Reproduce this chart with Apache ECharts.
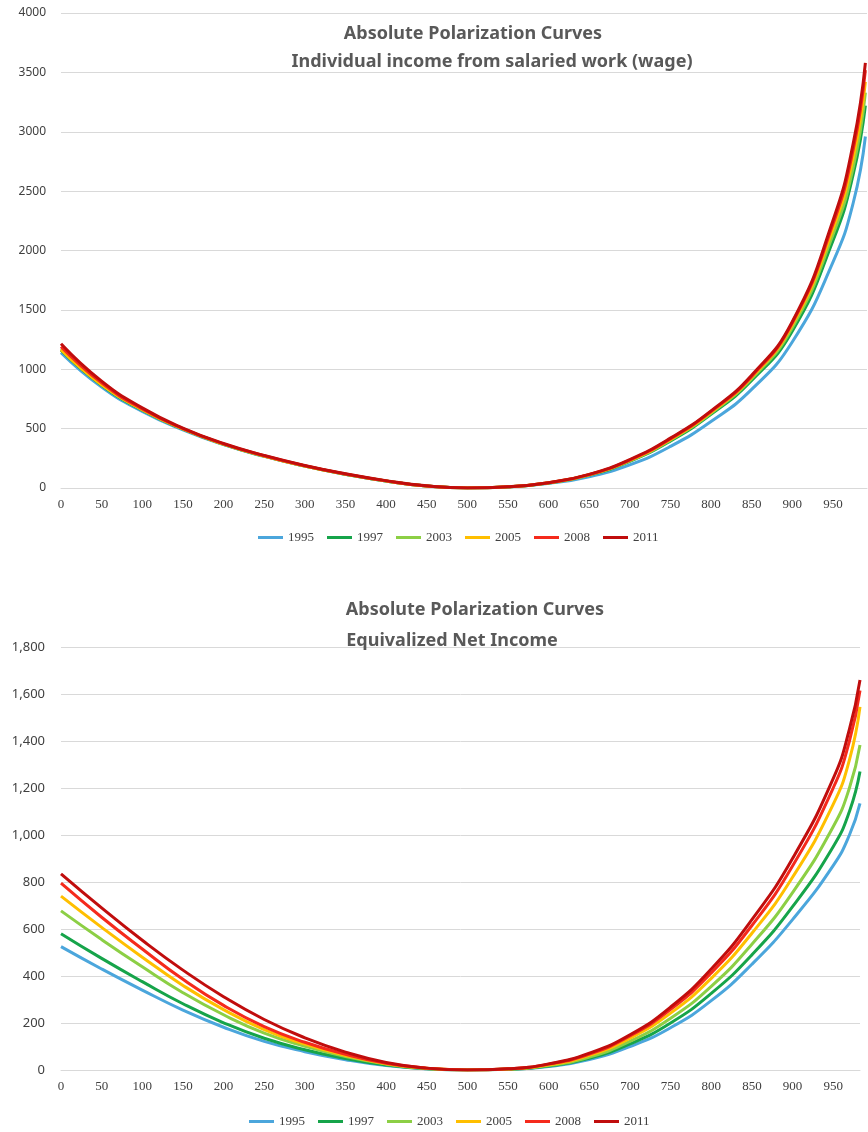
<!DOCTYPE html>
<html>
<head>
<meta charset="utf-8">
<script src="https://cdn.jsdelivr.net/npm/echarts@6/dist/echarts.min.js"></script>
<style>
  html, body { margin: 0; padding: 0; background: #fff; }
  #chart { width: 868px; height: 1132px; }
</style>
</head>
<body>
<div id="chart"></div>
<script>
// years shown in both panels
const years = ['1995', '1997', '2003', '2005', '2008', '2011'];
const colors = ['#4ba6dc', '#16a44a', '#8ccf45', '#ffbf00', '#f52a1c', '#c00d0d'];

// top panel: wage
const xTop = [0, 50, 100, 150, 200, 250, 300, 350, 400, 450, 500, 550, 600, 650, 700, 750, 800, 850, 900, 950, 975, 990];
const wage1995 = [1140, 850, 645, 490, 365, 266, 184, 115, 58, 16, 0, 8, 38, 95, 195, 350, 560, 830, 1230, 1900, 2400, 2960];
const wage1997 = [1160, 865, 655, 495, 368, 268, 185, 116, 59, 17, 0, 9, 42, 108, 224, 395, 620, 905, 1320, 2080, 2640, 3220];
const wage2003 = [1170, 872, 660, 497, 369, 268, 185, 116, 59, 17, 0, 10, 43, 110, 228, 402, 630, 920, 1350, 2130, 2700, 3330];
const wage2005 = [1165, 870, 660, 497, 370, 270, 186, 117, 60, 17, 0, 10, 44, 112, 232, 408, 638, 932, 1375, 2180, 2780, 3420];
const wage2008 = [1190, 885, 665, 500, 372, 272, 188, 118, 60, 17, 0, 10, 44, 113, 235, 414, 644, 940, 1390, 2220, 2850, 3520];
const wage2011 = [1215, 900, 675, 505, 375, 275, 190, 120, 62, 18, 0, 10, 45, 115, 240, 420, 650, 950, 1400, 2250, 2900, 3580];

// bottom panel: equivalized net income
const xBottom = [0, 50, 100, 150, 200, 250, 300, 350, 400, 450, 500, 550, 600, 650, 700, 750, 800, 850, 900, 950, 970, 983];
const net1995 = [525, 430, 340, 255, 182, 122, 78, 44, 19, 5, 0, 3, 15, 45, 100, 180, 295, 450, 640, 870, 1000, 1135];
const net1997 = [580, 475, 376, 282, 201, 135, 86, 49, 21, 5, 0, 3, 17, 50, 111, 200, 326, 490, 695, 950, 1100, 1270];
const net2003 = [677, 555, 439, 329, 235, 157, 101, 57, 25, 6, 0, 4, 19, 55, 122, 220, 356, 535, 755, 1035, 1200, 1383];
const net2005 = [740, 607, 480, 360, 257, 172, 110, 62, 27, 7, 0, 4, 22, 62, 135, 242, 390, 582, 820, 1130, 1320, 1545];
const net2008 = [795, 650, 515, 386, 275, 185, 118, 67, 29, 8, 0, 5, 25, 68, 145, 258, 413, 615, 868, 1200, 1400, 1615];
const net2011 = [835, 690, 552, 425, 312, 215, 137, 76, 32, 8, 0, 5, 26, 72, 150, 268, 430, 640, 900, 1240, 1450, 1660];

const wageSeries = [wage1995, wage1997, wage2003, wage2005, wage2008, wage2011];
const netSeries = [net1995, net1997, net2003, net2005, net2008, net2011];

const pair = (xs, ys) => xs.map((x, i) => [x, ys[i]]);

const titleStyle = { color: '#595959', fontSize: 18, fontWeight: 'bold', fontFamily: 'Noto Sans' };
const serifLabel = { color: '#404040', fontSize: 13, fontFamily: 'Liberation Serif' };
const gridLine = { show: true, lineStyle: { color: '#d9d9d9', width: 1 } };

const xAxisCommon = {
  type: 'value',
  min: 0,
  interval: 50,
  axisLine: { show: true, lineStyle: { color: '#d9d9d9' } },
  axisTick: { show: false },
  splitLine: { show: false },
  axisLabel: { ...serifLabel, margin: 10, showMaxLabel: false },
};

const lineCommon = {
  type: 'line',
  showSymbol: false,
  smooth: 0.5,
  lineStyle: { width: 3 },
};

const legendCommon = {
  data: years,
  icon: 'rect',
  itemWidth: 25,
  itemHeight: 3,
  itemGap: 13,
  textStyle: serifLabel,
};

const chart = echarts.init(document.getElementById('chart'));
chart.setOption({
  color: colors,
  animation: false,
  title: [
    { text: 'Absolute Polarization Curves', left: 468, top: 20, textAlign: 'center', textStyle: titleStyle },
    { text: 'Individual income from salaried work (wage)', left: 487, top: 48, textAlign: 'center', textStyle: titleStyle },
    { text: 'Absolute Polarization Curves', left: 470, top: 596, textAlign: 'center', textStyle: titleStyle },
    { text: 'Equivalized Net Income', left: 447, top: 627, textAlign: 'center', textStyle: titleStyle },
  ],
  legend: [
    { ...legendCommon, left: 253, top: 526 },
    { ...legendCommon, left: 244, top: 1110 },
  ],
  grid: [
    { left: 61, right: 1, top: 13, bottom: 644 },
    { left: 61, right: 8, top: 647, bottom: 62 },
  ],
  xAxis: [
    { ...xAxisCommon, gridIndex: 0, max: 992 },
    { ...xAxisCommon, gridIndex: 1, max: 983 },
  ],
  yAxis: [
    {
      type: 'value', gridIndex: 0, min: 0, max: 4000, interval: 500,
      axisLine: { show: false }, axisTick: { show: false }, splitLine: gridLine,
      axisLabel: { color: '#404040', fontSize: 12, fontFamily: 'Noto Sans', margin: 15, formatter: (v) => String(v) },
    },
    {
      type: 'value', gridIndex: 1, min: 0, max: 1800, interval: 200,
      axisLine: { show: false }, axisTick: { show: false }, splitLine: gridLine,
      axisLabel: {
        color: '#404040', fontSize: 13, fontFamily: 'Noto Sans', margin: 16,
        formatter: (v) => v.toLocaleString('en-US'),
      },
    },
  ],
  series: [
    ...years.map((y, i) => ({ ...lineCommon, name: y, xAxisIndex: 0, yAxisIndex: 0, data: pair(xTop, wageSeries[i]) })),
    ...years.map((y, i) => ({ ...lineCommon, name: y, xAxisIndex: 1, yAxisIndex: 1, data: pair(xBottom, netSeries[i]) })),
  ],
});
</script>
</body>
</html>
